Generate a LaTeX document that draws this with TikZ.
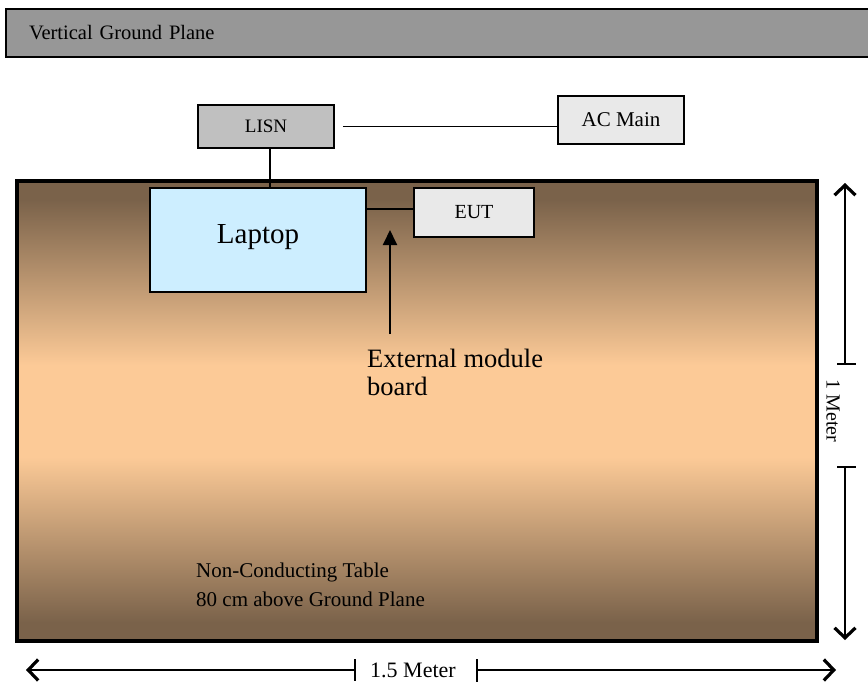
\documentclass[tikz,border=0pt]{standalone}
\usepackage{fontspec}
\setmainfont{Liberation Serif}
\usetikzlibrary{arrows.meta}
\definecolor{bannergray}{RGB}{151,151,151}
\definecolor{lisngray}{RGB}{192,192,192}
\definecolor{boxgray}{RGB}{233,233,233}
\definecolor{laptopblue}{RGB}{205,238,255}
\definecolor{tabdark}{RGB}{122,98,74}
\definecolor{tablight}{RGB}{252,202,151}
\pgfdeclareverticalshading{tableshade}{100bp}{%
  color(0bp)=(tabdark); color(27bp)=(tabdark); color(45bp)=(tablight);
  color(55bp)=(tablight); color(73bp)=(tabdark); color(100bp)=(tabdark)}
\begin{document}
\begin{tikzpicture}[x=1pt,y=-1pt,
  box/.style={draw=black, line width=1.8pt, inner sep=0pt, text=black},
  conn/.style={draw=black, line width=1.9pt},
  dimline/.style={draw=black, line width=1.6pt},
  dimtip/.style={-{Straight Barb[length=10pt,width=21pt,line width=3.2pt]}},
  fs/.style={font=\fontsize{#1}{#1}\selectfont}
]
\useasboundingbox (0,0) rectangle (868,683);

% vertical ground plane banner
\node[box, fill=bannergray, line width=2pt, anchor=north west, minimum height=48pt,
      text width=842pt, inner xsep=23pt, align=left, fs=20.5] (vgp) at (5,8) {Vertical Ground Plane};

% table
\node[draw=black, line width=3.5pt, shading=tableshade,
      minimum width=800pt, minimum height=460pt, inner sep=0pt] (table) at (417,411) {};

% boxes
\node[box, fill=lisngray, minimum width=136pt, minimum height=43pt, fs=19] (lisn) at (266,126.5) {LISN};
\node[box, fill=boxgray, minimum width=126pt, minimum height=48pt, fs=21] (acmain) at (621,120) {AC Main};
\node[box, fill=laptopblue, minimum width=216pt, minimum height=104pt, fs=29,
      text height=20pt, text depth=14pt] (laptop) at (258,240) {Laptop};
\node[box, fill=boxgray, minimum width=120pt, minimum height=49pt, fs=20] (eut) at (474,212.5) {EUT};

% connectors
\draw[conn] ([xshift=8pt]lisn.east) -- (acmain.west |- lisn.east);
\draw[conn] ([xshift=4pt]lisn.south) -- ([xshift=4pt]lisn.south |- laptop.north);
\draw[conn] ([yshift=3.5pt]eut.west) -- ([yshift=3.5pt]eut.west -| laptop.east);

% external module board
\node[anchor=north west, align=left, inner sep=0pt, font=\fontsize{26.5}{28}\selectfont] (ext) at (367,349) {External module\\board};
\coordinate (extarrow) at (390,230);
\draw[conn, -{Triangle[length=15pt,width=14pt]}] (390,334) -- (extarrow);

% table text
\node[anchor=north west, align=left, inner sep=0pt, font=\fontsize{21}{29}\selectfont] (tabtext) at (196,563) {Non-Conducting Table\\80 cm above Ground Plane};

% vertical dimension
\node[fs=20, rotate=-90, inner sep=0pt] (onem) at (833,411) {1 Meter};
\coordinate (vtop) at (845,183);
\coordinate (vt1) at (845,364);
\coordinate (vt2) at (845,467);
\coordinate (vbot) at (845,640);
\draw[dimline, dimtip] (vt1) -- (vtop);
\draw[dimline, dimtip] (vt2) -- (vbot);
\draw[dimline] ([xshift=-8pt]vt1) -- ([xshift=11pt]vt1);
\draw[dimline] ([xshift=-8pt]vt2) -- ([xshift=11pt]vt2);

% horizontal dimension
\node[fs=22, inner sep=0pt] (onefive) at (413,670) {1.5 Meter};
\coordinate (hl) at (26,670);
\coordinate (ht1) at (355,670);
\coordinate (ht2) at (477,670);
\coordinate (hr) at (836,670);
\draw[dimline, dimtip] (ht1) -- (hl);
\draw[dimline, dimtip] (ht2) -- (hr);
\draw[dimline] ([yshift=11pt]ht1) -- ([yshift=-11pt]ht1);
\draw[dimline] ([yshift=11pt]ht2) -- ([yshift=-12pt]ht2);
\end{tikzpicture}
\end{document}
